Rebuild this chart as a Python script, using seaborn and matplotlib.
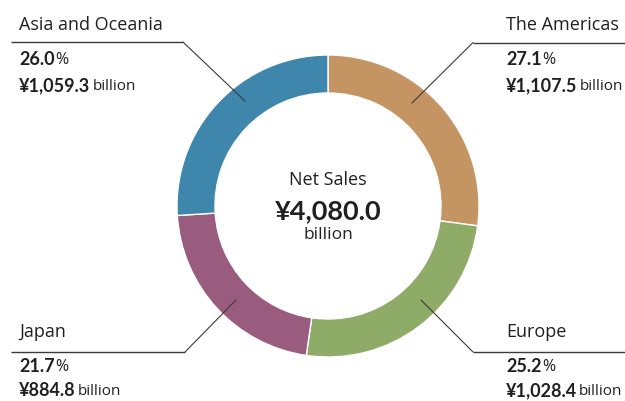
import numpy as np
import seaborn as sns
import matplotlib.pyplot as plt

# Net sales by region (share in %, value in billion yen)
regions = ["The Americas", "Europe", "Japan", "Asia and Oceania"]
shares = [27.1, 25.2, 21.7, 26.0]
sales = [1107.5, 1028.4, 884.8, 1059.3]
total_sales = 4080.0
colors = ["#c49462", "#8fab68", "#9a5c7e", "#3f86ad"]

W, H = 625, 401
TXT = "#231f20"
BOLD_FONT = ["Lato", "DejaVu Sans"]

sns.set_theme(style="white")
plt.rcParams["font.family"] = ["Open Sans", "DejaVu Sans"]

fig = plt.figure(figsize=(W / 100, H / 100), dpi=100)
ax = fig.add_axes([0, 0, 1, 1])

# donut (pixel coords, y measured from bottom)
cx, cy, r_out, ring = 328, H - 206, 151, 38
ax.pie(shares, colors=sns.color_palette(colors), startangle=90, counterclock=False,
       radius=r_out, center=(cx, cy), frame=True,
       wedgeprops=dict(width=ring, edgecolor="white", linewidth=1))
ax.set_xlim(0, W)
ax.set_ylim(0, H)
ax.set_aspect("equal")
ax.axis("off")

# centre text
ax.text(cx, H - 185, "Net Sales", ha="center", va="baseline", fontsize=13, color=TXT)
ax.text(cx, H - 219, f"¥{total_sales:,.1f}", ha="center", va="baseline",
        fontsize=19.5, fontweight="bold", family=BOLD_FONT, color=TXT)
ax.text(cx, H - 239, "billion", ha="center", va="baseline", fontsize=12.5, color=TXT)

# label layout: text x, name baseline, rule y, rule x-range, share/amount baselines, anchor on ring
layout = {
    "The Americas": dict(tx=506, yb=30, rule=42.5, x0=473, x1=625, ys=65, ya=91, anchor=(412, 103)),
    "Europe": dict(tx=506, yb=337, rule=352, x0=473, x1=625, ys=372, ya=396, anchor=(421, 300)),
    "Japan": dict(tx=19, yb=337, rule=352, x0=11, x1=185, ys=372, ya=396, anchor=(236, 300)),
    "Asia and Oceania": dict(tx=19, yb=30, rule=42, x0=11, x1=183, ys=65, ya=91, anchor=(245, 101)),
}


def mixed(x, y, bold_txt, norm_txt, bsize, nsize, gap):
    t = ax.text(x, H - y, bold_txt, ha="left", va="baseline", fontsize=bsize,
                fontweight="bold", family=BOLD_FONT, color=TXT)
    ax.annotate(norm_txt, xy=(1, 0), xycoords=t, xytext=(gap, 0), textcoords="offset points",
                ha="left", va="bottom", fontsize=nsize, color=TXT)


for name, share, val in zip(regions, shares, sales):
    L = layout[name]
    elbow_x = L["x1"] if L["tx"] < cx else L["x0"]
    ax.plot([L["x0"], L["x1"]], [H - L["rule"]] * 2, color="#3a3a3a", lw=1.0,
            solid_capstyle="butt")
    ax.plot([elbow_x, L["anchor"][0]], [H - L["rule"], H - L["anchor"][1]],
            color="#3a3a3a", lw=0.8)
    ax.text(L["tx"], H - L["yb"], name, ha="left", va="baseline", fontsize=13, color=TXT)
    mixed(L["tx"], L["ys"], f"{share:.1f}", "%", 13, 11.5, 0.3)
    mixed(L["tx"], L["ya"], f"¥{val:,.1f}", "billion", 13, 11, 1.5)

fig.savefig("out.png", dpi=100)
